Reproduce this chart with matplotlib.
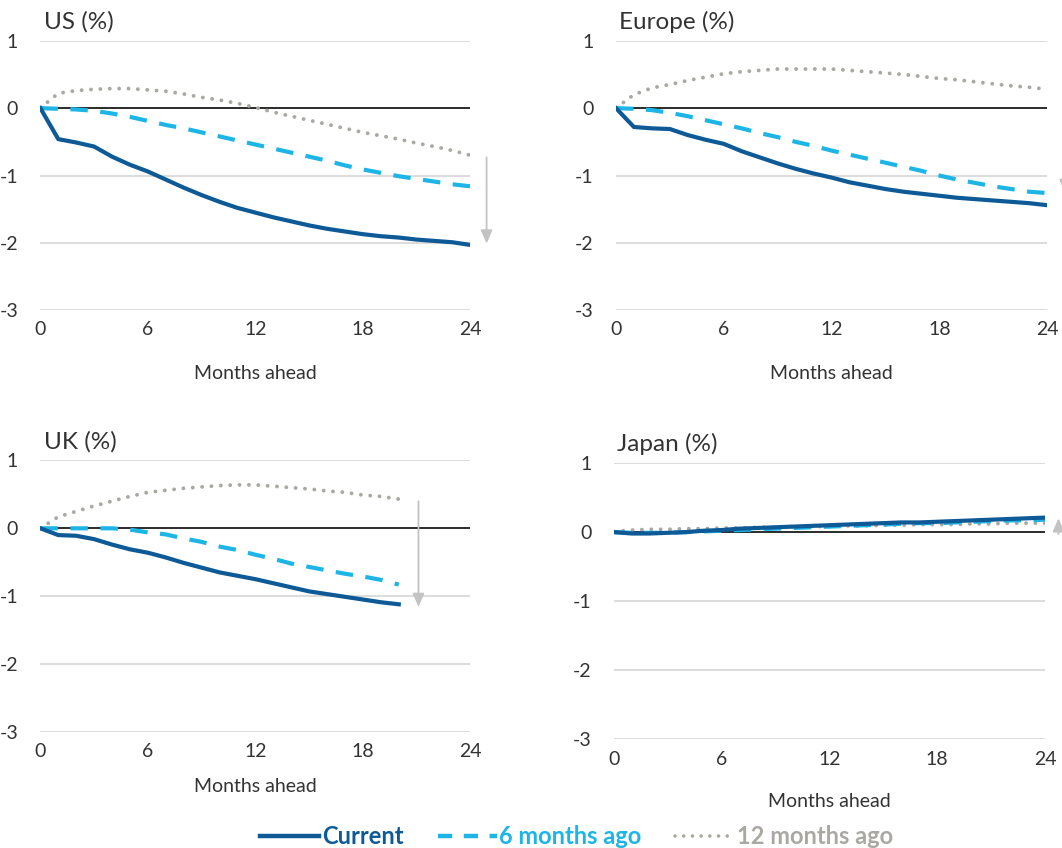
import numpy as np
import matplotlib
matplotlib.use("Agg")
import matplotlib.pyplot as plt
from matplotlib.lines import Line2D

plt.rcParams['font.family'] = ['Lato', 'DejaVu Sans']

months = np.arange(25)
months_uk = np.arange(21)

us_current = [0, -0.46, -0.51, -0.57, -0.72, -0.84, -0.94, -1.06, -1.18, -1.29, -1.39, -1.48, -1.55,
              -1.62, -1.68, -1.74, -1.79, -1.83, -1.87, -1.90, -1.92, -1.95, -1.97, -1.99, -2.03]
us_6m = [0, -0.01, -0.02, -0.04, -0.08, -0.13, -0.19, -0.25, -0.30, -0.36, -0.42, -0.48, -0.54,
         -0.60, -0.66, -0.72, -0.78, -0.85, -0.91, -0.96, -1.01, -1.05, -1.09, -1.13, -1.16]
us_12m = [0, 0.22, 0.26, 0.28, 0.29, 0.29, 0.27, 0.25, 0.21, 0.16, 0.12, 0.07, 0.01,
          -0.06, -0.12, -0.18, -0.24, -0.30, -0.36, -0.41, -0.46, -0.52, -0.57, -0.63, -0.70]

eu_current = [0, -0.28, -0.30, -0.31, -0.40, -0.47, -0.53, -0.64, -0.73, -0.82, -0.90, -0.97, -1.03,
              -1.10, -1.15, -1.20, -1.24, -1.27, -1.30, -1.33, -1.35, -1.37, -1.39, -1.41, -1.44]
eu_6m = [0, -0.01, -0.03, -0.07, -0.12, -0.18, -0.24, -0.30, -0.37, -0.43, -0.50, -0.56, -0.63,
         -0.69, -0.75, -0.81, -0.87, -0.93, -1.00, -1.06, -1.11, -1.16, -1.20, -1.24, -1.26]
eu_12m = [0, 0.20, 0.30, 0.35, 0.41, 0.46, 0.51, 0.54, 0.56, 0.58, 0.58, 0.58, 0.58,
          0.56, 0.54, 0.52, 0.50, 0.47, 0.44, 0.42, 0.39, 0.36, 0.33, 0.31, 0.28]

uk_current = [0, -0.10, -0.11, -0.16, -0.24, -0.31, -0.36, -0.43, -0.51, -0.58, -0.65, -0.70, -0.75,
              -0.81, -0.87, -0.93, -0.97, -1.01, -1.05, -1.09, -1.12]
uk_6m = [0, 0, 0, 0, 0, -0.02, -0.06, -0.09, -0.15, -0.20, -0.27, -0.32, -0.39,
         -0.45, -0.52, -0.57, -0.62, -0.67, -0.71, -0.76, -0.83]
uk_12m = [0, 0.17, 0.25, 0.33, 0.40, 0.47, 0.53, 0.56, 0.59, 0.61, 0.63, 0.64, 0.64,
          0.62, 0.60, 0.58, 0.55, 0.53, 0.49, 0.47, 0.43]

jp_current = [0, -0.02, -0.02, -0.01, 0.0, 0.02, 0.03, 0.05, 0.06, 0.07, 0.08, 0.09, 0.10,
              0.11, 0.12, 0.13, 0.14, 0.14, 0.15, 0.16, 0.17, 0.18, 0.19, 0.20, 0.21]
jp_6m = [0, -0.01, -0.01, -0.01, 0.0, 0.01, 0.02, 0.03, 0.04, 0.05, 0.06, 0.07, 0.08,
         0.09, 0.10, 0.11, 0.12, 0.13, 0.13, 0.14, 0.15, 0.16, 0.17, 0.17, 0.18]
jp_12m = [0.01, 0.03, 0.04, 0.04, 0.05, 0.05, 0.06, 0.06, 0.07, 0.07, 0.08, 0.08, 0.08,
          0.09, 0.09, 0.10, 0.10, 0.11, 0.11, 0.11, 0.12, 0.12, 0.13, 0.13, 0.13]

# arrows: (month, start, end)
us_arrow = (24.9, -0.69, -2.05)
eu_arrow = (25.0, 0.25, -1.3)
uk_arrow = (21.1, 0.44, -1.2)
jp_arrow = (24.75, -0.07, 0.24)

series_names = ["Current", "6 months ago", "12 months ago"]
col_cur = "#0d5a97"
col_6m = "#1db4e6"
col_12m = "#a9a8a2"
col_arrow = "#c3c3c3"

panels = [
    ("US (%)", months, us_current, us_6m, us_12m, us_arrow, [0.038, 0.634, 0.405, 0.318], 19),
    ("Europe (%)", months, eu_current, eu_6m, eu_12m, eu_arrow, [0.580, 0.634, 0.406, 0.318], 19),
    ("UK (%)", months_uk, uk_current, uk_6m, uk_12m, uk_arrow, [0.038, 0.137, 0.405, 0.320], 13),
    ("Japan (%)", months, jp_current, jp_6m, jp_12m, jp_arrow, [0.578, 0.128, 0.406, 0.326], 18),
]

fig = plt.figure(figsize=(10.62, 8.48), dpi=100)

for title, x, cur, m6, m12, arr, rect, lpad in panels:
    ax = fig.add_axes(rect)
    ax.set_xlim(0, 24)
    ax.set_ylim(-3, 1)
    for y in [1, -1, -2, -3]:
        ax.axhline(y, color="#d9d9d9", lw=1.3, zorder=0)
    ax.axhline(0, color="#1a1a1a", lw=1.3, zorder=1)
    ax.plot(x, m12, color=col_12m, lw=2.8, linestyle=(0, (0.01, 2.4)),
            dash_capstyle="round", zorder=2)
    ax.plot(x, m6, color=col_6m, lw=3.0, linestyle=(0, (4.2, 3.0)), zorder=3)
    ax.plot(x, cur, color=col_cur, lw=3.0, zorder=4)
    ax.annotate("", xy=(arr[0], arr[2]), xytext=(arr[0], arr[1]),
                arrowprops=dict(arrowstyle="-|>,head_width=0.35,head_length=0.8",
                                color=col_arrow, lw=1.3),
                annotation_clip=False, zorder=5)
    for s in ax.spines.values():
        s.set_visible(False)
    ax.set_xticks([0, 6, 12, 18, 24])
    ax.set_yticks([1, 0, -1, -2, -3])
    ax.set_yticklabels(["1", "0", "-1", "-2", "-3"])
    ax.tick_params(length=0, labelsize=14, colors="#333333", pad=8)
    ax.tick_params(axis="y", pad=16)
    ax.set_xlabel("Months ahead", fontsize=14, color="#333333", labelpad=lpad)
    ax.text(0.008, 1.03, title, transform=ax.transAxes, fontsize=17.5,
            color="#333333", ha="left", va="bottom")

handles = [
    Line2D([], [], color=col_cur, lw=3.2),
    Line2D([], [], color=col_6m, lw=3.2, linestyle=(0, (3.2, 2.6))),
    Line2D([], [], color=col_12m, lw=2.6, linestyle=(0, (0.01, 2.4)), dash_capstyle="round"),
]
leg = fig.legend(handles, series_names, loc="center", bbox_to_anchor=(0.543, 0.013),
                 ncol=3, frameon=False, handlelength=2.5, handletextpad=0.1,
                 columnspacing=1.45, prop={"size": 17, "weight": "bold"})
for t, c in zip(leg.get_texts(), [col_cur, col_6m, col_12m]):
    t.set_color(c)

fig.savefig("out.png", dpi=100)
